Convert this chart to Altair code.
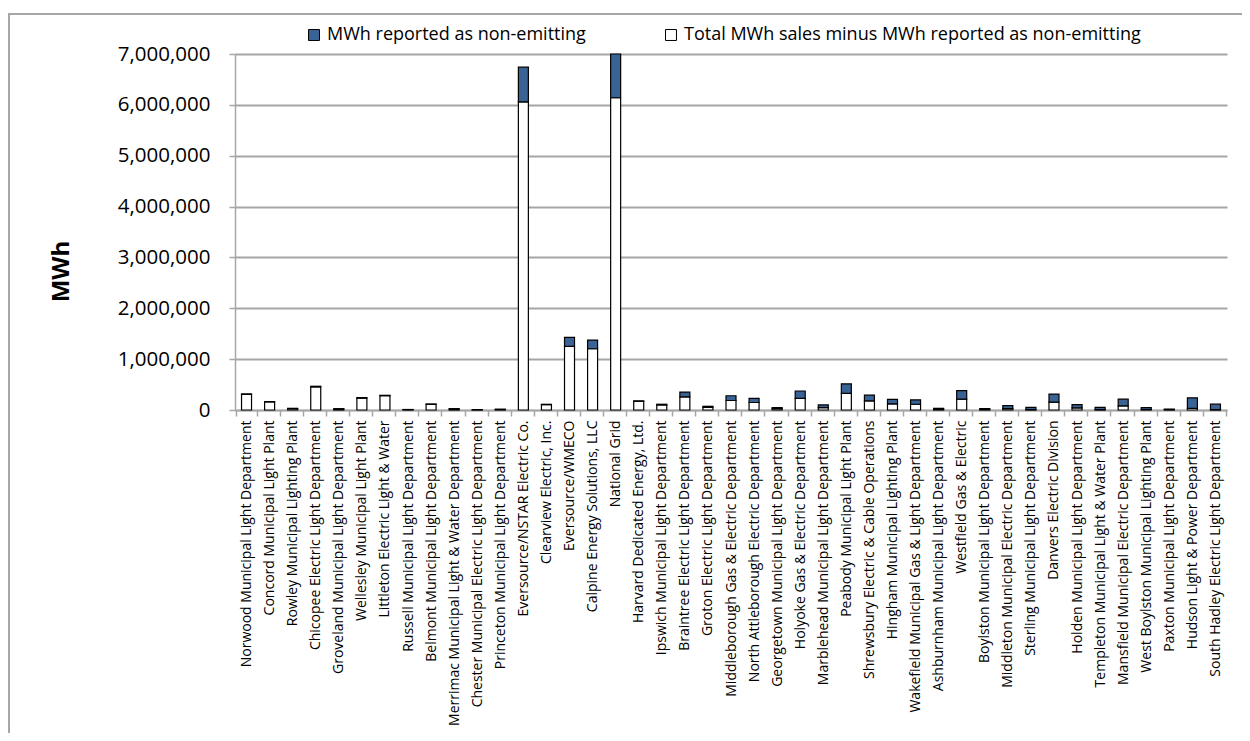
import altair as alt
import pandas as pd

categories = [
    "Norwood Municipal Light Department",
    "Concord Municipal Light Plant",
    "Rowley Municipal Lighting Plant",
    "Chicopee Electric Light Department",
    "Groveland Municipal Light Department",
    "Wellesley Municipal Light Plant",
    "Littleton Electric Light & Water",
    "Russell Municipal Light Department",
    "Belmont Municipal Light Department",
    "Merrimac Municipal Light & Water Department",
    "Chester Municipal Electric Light Department",
    "Princeton Municipal Light Department",
    "Eversource/NSTAR Electric Co.",
    "Clearview Electric, Inc.",
    "Eversource/WMECO",
    "Calpine Energy Solutions, LLC",
    "National Grid",
    "Harvard Dedicated Energy, Ltd.",
    "Ipswich Municipal Light Department",
    "Braintree Electric Light Department",
    "Groton Electric Light Department",
    "Middleborough Gas & Electric Department",
    "North Attleborough Electric Department",
    "Georgetown Municipal Light Department",
    "Holyoke Gas & Electric Department",
    "Marblehead Municipal Light Department",
    "Peabody Municipal Light Plant",
    "Shrewsbury Electric & Cable Operations",
    "Hingham Municipal Lighting Plant",
    "Wakefield Municipal Gas & Light Department",
    "Ashburnham Municipal Light Department",
    "Westfield Gas & Electric",
    "Boylston Municipal Light Department",
    "Middleton Municipal Electric Department",
    "Sterling Municipal Light Department",
    "Danvers Electric Division",
    "Holden Municipal Light Department",
    "Templeton Municipal Light & Water Plant",
    "Mansfield Municipal Electric Department",
    "West Boylston Municipal Lighting Plant",
    "Paxton Municipal Light Department",
    "Hudson Light & Power Department",
    "South Hadley Electric Light Department",
]

# MWh reported as non-emitting
non_emitting = [
    8000, 6000, 8000, 12000, 8000, 8000, 8000, 2000, 6000, 8000, 2000, 4000,
    680000, 6000, 178000, 171000, 860000,
    8000, 14000, 93000, 22000, 93000, 80000, 20000, 147000, 53000, 187000,
    113000, 87000, 87000, 18000, 167000, 14000, 60000, 45000, 160000, 67000,
    45000, 133000, 37000, 10000, 207000, 107000,
]

# Total MWh sales minus MWh reported as non-emitting
remainder = [
    308000, 158000, 25000, 455000, 18000, 235000, 281000, 8000, 112000, 18000, 6000, 11000,
    6060000, 106000, 1250000, 1204000, 6140000,
    172000, 99000, 260000, 51000, 187000, 147000, 27000, 227000, 47000, 327000,
    180000, 120000, 113000, 15000, 213000, 13000, 27000, 8000, 153000, 40000,
    8000, 80000, 10000, 8000, 33000, 7000,
]

y_ticks = [0, 1000000, 2000000, 3000000, 4000000, 5000000, 6000000, 7000000]

SER_NE = "MWh reported as non-emitting"
SER_REST = "Total MWh sales minus MWh reported as non-emitting"

rows = []
for c, ne, r in zip(categories, non_emitting, remainder):
    rows.append({"cat": c, "series": SER_REST, "val": r, "ord": 0})
    rows.append({"cat": c, "series": SER_NE, "val": ne, "ord": 1})
df = pd.DataFrame(rows)

FONT = "Open Sans"
W, H = 992, 356
LEFT, TOP = 227, 46
GRAY = "#A6A6A6"

bars = alt.Chart(df).mark_bar(width=10, stroke="black", strokeWidth=1.2).encode(
    x=alt.X(
        "cat:N",
        sort=categories,
        title=None,
        axis=alt.Axis(
            labelAngle=-90,
            labelAlign="right",
            labelBaseline="middle",
            tickBand="extent",
            labelFont=FONT,
            labelFontSize=14,
            labelColor="black",
            labelLimit=500,
            labelPadding=4,
            tickSize=6,
            tickColor=GRAY,
            tickWidth=1.5,
            domainColor=GRAY,
            domainWidth=1.5,
            grid=False,
        ),
    ),
    y=alt.Y(
        "val:Q",
        stack="zero",
        scale=alt.Scale(domain=[0, 7000000], nice=False),
        axis=alt.Axis(
            values=y_ticks,
            format=",.0f",
            title="MWh",
            titleFont=FONT,
            titleFontSize=24,
            titleFontWeight="bold",
            titleColor="black",
            titleAngle=-90,
            titleAlign="center",
            titleBaseline="middle",
            titleX=-174,
            titleY=217,
            labelFont=FONT,
            labelFontSize=20.5,
            labelColor="black",
            labelPadding=19,
            tickSize=6,
            tickColor=GRAY,
            tickWidth=1.5,
            domainColor=GRAY,
            domainWidth=1.5,
            grid=True,
            gridColor=GRAY,
            gridWidth=1.8,
        ),
    ),
    color=alt.Color(
        "series:N",
        scale=alt.Scale(domain=[SER_NE, SER_REST], range=["#3A6395", "#FFFFFF"]),
        legend=alt.Legend(
            title=None,
            orient="none",
            direction="horizontal",
            legendX=70,
            legendY=-28,
            symbolType="square",
            symbolSize=120,
            symbolStrokeColor="black",
            symbolStrokeWidth=1,
            labelFont=FONT,
            labelFontSize=18,
            labelColor="black",
            labelOffset=4,
            columnPadding=76,
            labelLimit=700,
        ),
    ),
    order=alt.Order("ord:Q"),
)

one = pd.DataFrame({"a": [0]})
border_left = alt.Chart(one).mark_rule(color=GRAY, strokeWidth=2).encode(
    x=alt.value(-226), y=alt.value(-41), y2=alt.value(720)
)
span = pd.DataFrame({"x0": [0.0], "x1": [1.0]})
border_top = alt.Chart(span).mark_rule(color=GRAY, strokeWidth=2).encode(
    x=alt.X("x0:Q", scale=alt.Scale(domain=[0, 1], range=[-227, 1007]), axis=None),
    x2="x1:Q",
    y=alt.value(-40),
)

chart = alt.layer(bars, border_left, border_top).resolve_scale(
    x="independent"
).properties(
    width=W,
    height=H,
    padding={"left": LEFT, "top": TOP, "right": 1234 - LEFT - W, "bottom": 725 - TOP - H},
    autosize=alt.AutoSizeParams(type="none"),
).configure_view(stroke=None)

chart.save("out.html", embed_options={"renderer": "svg", "actions": False})
